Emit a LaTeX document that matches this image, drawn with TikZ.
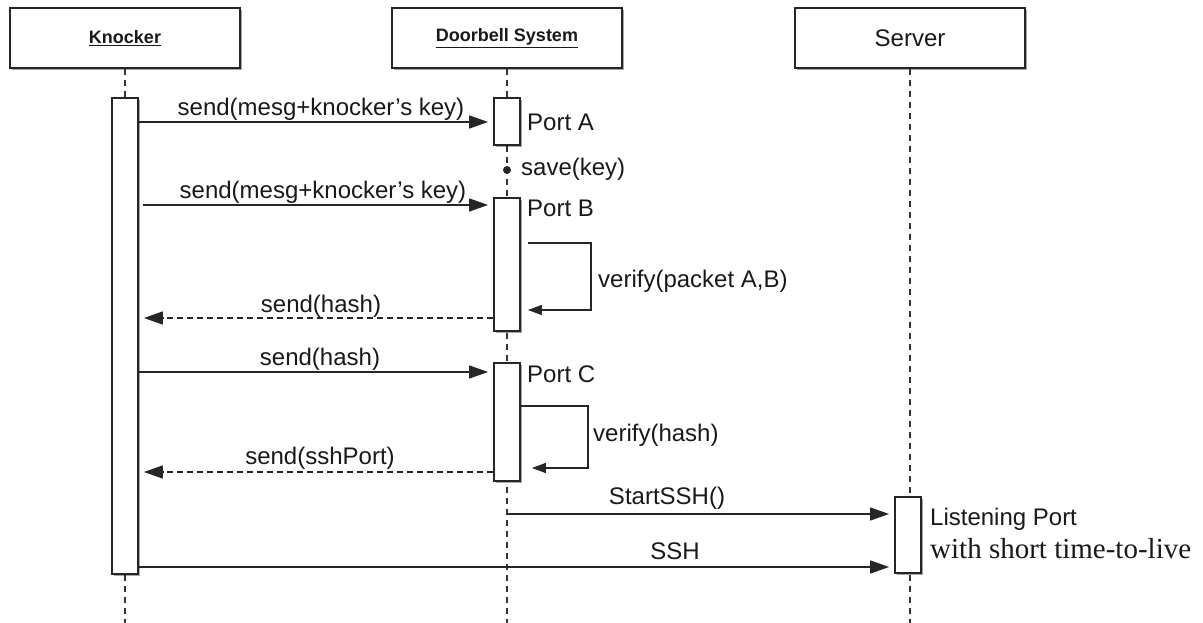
\documentclass[tikz,border=0pt]{standalone}
\usepackage{fontspec}
\setmainfont{Liberation Sans}
\newfontfamily\timesfont{Liberation Serif}
\usetikzlibrary{arrows.meta,shadows}

\tikzset{
  shade box/.style={drop shadow={shadow xshift=1.6pt,shadow yshift=-1.8pt,opacity=0.35,fill=black}},
  actor/.style={draw=black!85,line width=1.8pt,fill=white,minimum width=230pt,minimum height=60pt,inner sep=0pt,shade box},
  bar/.style={draw=black!85,line width=1.8pt,fill=white,minimum width=26pt,inner sep=0pt,shade box},
  lifeline/.style={draw=black!80,line width=1.2pt,dash pattern=on 6pt off 5pt},
  msg/.style={draw=black!85,line width=1.5pt,-{Triangle[length=19pt,width=13pt]},shorten >=5pt},
  reply/.style={msg,dash pattern=on 6pt off 4pt},
  selfmsg/.style={draw=black!85,line width=1.4pt,-{Triangle[length=14pt,width=10pt]}},
  lbl/.style={anchor=base,inner sep=0pt,text=black!90,font=\fontsize{24}{28}\selectfont},
  side/.style={anchor=base west,inner sep=0pt,text=black!90,font=\fontsize{24}{28}\selectfont},
  headbold/.style={font=\fontsize{18}{22}\selectfont\bfseries,text=black!90},
}

\begin{document}
\begin{tikzpicture}[x=1pt,y=-1pt]
\useasboundingbox (0,0) rectangle (1203,623);

% participants
\node[actor,headbold] (knocker) at (125,38) {\underline{Knocker}};
\node[actor,headbold] (doorbell) at (507,38) {\underline{Doorbell System}};
\node[actor,font=\fontsize{24}{28}\selectfont,text=black!90] (server) at (910,38) {Server};

% lifelines
\coordinate (kend) at (125,623);
\coordinate (dend) at (507,623);
\coordinate (send) at (910,623);
\draw[lifeline] (knocker.south) -- (kend);
\draw[lifeline] (doorbell.south) -- (dend);
\draw[lifeline] (server.south) -- (send);

% activation bars
\node[bar,minimum height=476pt] (kbar) at (125,336) {};
\node[bar,minimum height=47pt] (barA) at (507,121.5) {};
\node[bar,minimum height=133pt] (barB) at (507,264.5) {};
\node[bar,minimum height=118pt] (barC) at (507,422) {};
\node[bar,minimum height=76pt] (sbar) at (908,535) {};

% message levels
\coordinate (m1) at (0,122);
\coordinate (m2) at (0,205);
\coordinate (m3) at (0,318);
\coordinate (m4) at (0,372);
\coordinate (m5) at (0,472);
\coordinate (m6) at (0,514);
\coordinate (m7) at (0,567);

% knocker -> doorbell, port A
\draw[msg] (kbar.east |- m1) -- (barA.west |- m1);
\node[lbl] (l1) at (321,116) {send(mesg+knocker’s key)};
\node[side] (pA) at (527,131) {Port A};

% key stored
\node[circle,fill=black!85,inner sep=0pt,minimum size=8pt] (dot) at (507,170) {};
\node[side] (sv) at (521,176) {save(key)};

% knocker -> doorbell, port B
\draw[msg] ([xshift=4pt]kbar.east |- m2) -- (barB.west |- m2);
\node[lbl] (l2) at (323,199) {send(mesg+knocker’s key)};
\node[side] (pB) at (527,216) {Port B};

% verification of A,B
\coordinate (vb1) at (591,243);
\coordinate (vb2) at (591,310);
\draw[selfmsg] ([xshift=7pt]barB.east |- vb1) -- (vb1) -- (vb2) -- ([xshift=7pt]barB.east |- vb2);
\node[side] (vf1) at (598,287) {verify(packet A,B)};

% hash back to knocker
\draw[reply] (barB.west |- m3) -- (kbar.east |- m3);
\node[lbl] (l3) at (321,312) {send(hash)};

% hash to port C
\draw[msg] (kbar.east |- m4) -- (barC.west |- m4);
\node[lbl] (l4) at (320,365) {send(hash)};
\node[side] (pC) at (527,382) {Port C};

% verification of hash
\coordinate (vc1) at (588,406);
\coordinate (vc2) at (588,468);
\draw[selfmsg] (barC.east |- vc1) -- (vc1) -- (vc2) -- ([xshift=11pt]barC.east |- vc2);
\node[side] (vf2) at (593,441) {verify(hash)};

% ssh port back to knocker
\draw[reply] (barC.west |- m5) -- (kbar.east |- m5);
\node[lbl] (l5) at (320,464) {send(sshPort)};

% start of ssh service
\draw[msg] (doorbell.south |- m6) -- (sbar.west |- m6);
\node[lbl] (l6) at (667,504) {StartSSH()};

% ssh connection
\draw[msg] (kbar.east |- m7) -- (sbar.west |- m7);
\node[lbl] (l7) at (675,559) {SSH};

\node[side] (lp1) at (930,525) {Listening Port};
\node[side,font=\timesfont\fontsize{29}{33}\selectfont] (lp2) at (930,558) {with short time-to-live};
\end{tikzpicture}
\end{document}
